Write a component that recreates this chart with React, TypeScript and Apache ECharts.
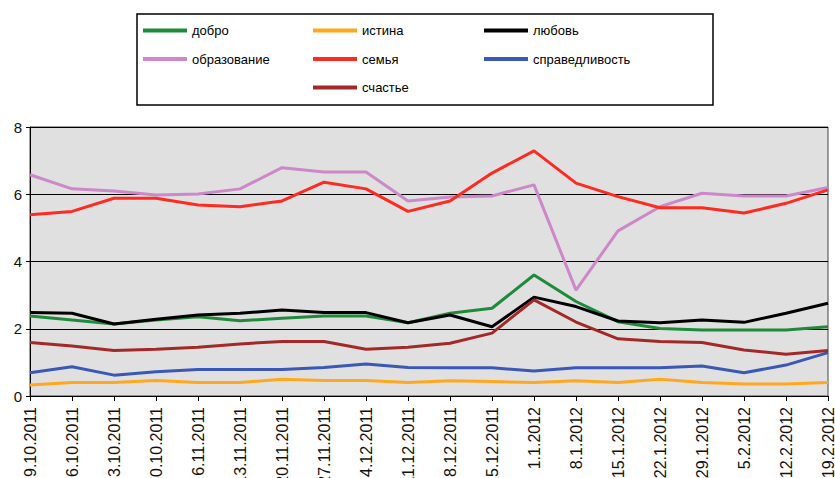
import React, { useEffect, useRef } from "react";
import * as echarts from "echarts";

const dates = [
  "9.10.2011", "16.10.2011", "23.10.2011", "30.10.2011", "6.11.2011", "13.11.2011",
  "20.11.2011", "27.11.2011", "4.12.2011", "11.12.2011", "18.12.2011", "25.12.2011",
  "1.1.2012", "8.1.2012", "15.1.2012", "22.1.2012", "29.1.2012", "5.2.2012",
  "12.2.2012", "19.2.2012",
];

const dobro = [2.38, 2.26, 2.14, 2.26, 2.36, 2.24, 2.31, 2.38, 2.38, 2.18, 2.46, 2.61, 3.6, 2.81, 2.21, 2.01, 1.96, 1.96, 1.96, 2.06];
const istina = [0.33, 0.4, 0.4, 0.46, 0.4, 0.4, 0.5, 0.46, 0.46, 0.4, 0.45, 0.43, 0.4, 0.45, 0.4, 0.5, 0.4, 0.36, 0.36, 0.4];
const lyubov = [2.48, 2.46, 2.14, 2.28, 2.41, 2.46, 2.56, 2.48, 2.48, 2.18, 2.41, 2.06, 2.94, 2.66, 2.23, 2.18, 2.26, 2.19, 2.46, 2.76];
const obrazovanie = [6.58, 6.16, 6.1, 5.98, 6.01, 6.16, 6.79, 6.66, 6.66, 5.8, 5.92, 5.95, 6.28, 3.15, 4.91, 5.63, 6.03, 5.95, 5.95, 6.2];
const semya = [5.39, 5.49, 5.88, 5.88, 5.68, 5.63, 5.8, 6.36, 6.16, 5.49, 5.8, 6.63, 7.29, 6.33, 5.93, 5.6, 5.6, 5.44, 5.73, 6.13];
const spravedlivost = [0.69, 0.87, 0.62, 0.72, 0.79, 0.79, 0.79, 0.85, 0.95, 0.85, 0.84, 0.84, 0.74, 0.84, 0.84, 0.84, 0.89, 0.69, 0.92, 1.29];
const schastye = [1.59, 1.49, 1.35, 1.39, 1.45, 1.55, 1.62, 1.62, 1.39, 1.45, 1.57, 1.87, 2.86, 2.2, 1.7, 1.62, 1.59, 1.37, 1.24, 1.35];

const seriesDefs = [
  { name: "добро", data: dobro, color: "#1F8A3A" },
  { name: "истина", data: istina, color: "#FFA81F" },
  { name: "любовь", data: lyubov, color: "#000000" },
  { name: "образование", data: obrazovanie, color: "#CC88C8" },
  { name: "семья", data: semya, color: "#FF2A20" },
  { name: "справедливость", data: spravedlivost, color: "#3A58B5" },
  { name: "счастье", data: schastye, color: "#A52828" },
];

const FONT = "'Liberation Sans', Arial, sans-serif";

export default function App() {
  const ref = useRef<HTMLDivElement>(null);
  useEffect(() => {
    if (!ref.current) return;
    const chart = echarts.init(ref.current, null, { renderer: "svg" });
    const legendCommon = {
      orient: "vertical" as const,
      top: 24,
      padding: 0,
      itemWidth: 44,
      itemHeight: 4,
      itemGap: 15.5,
      icon: "rect",
      textStyle: { fontSize: 13, color: "#000", fontFamily: FONT },
      selectedMode: false,
    };
    chart.setOption({
      animation: false,
      backgroundColor: "#fff",
      graphic: [
        {
          type: "rect",
          shape: { x: 137, y: 14, width: 576, height: 91 },
          style: { fill: "#fff", stroke: "#000", lineWidth: 1.5 },
          z: -1,
        },
      ],
      legend: [
        { ...legendCommon, left: 143, data: ["добро", "образование"] },
        { ...legendCommon, left: 313, data: ["истина", "семья", "счастье"] },
        { ...legendCommon, left: 484, data: ["любовь", "справедливость"] },
      ],
      grid: {
        left: 30,
        right: 7,
        top: 127,
        bottom: 82,
        outerBoundsMode: "none",
        containLabel: false,
        show: true,
        backgroundColor: "#E0E0E0",
        borderColor: "#444",
        borderWidth: 1,
      },
      xAxis: {
        type: "category",
        data: dates,
        boundaryGap: false,
        axisLine: { lineStyle: { color: "#000", width: 1 } },
        axisTick: { show: true, length: 5, interval: 0, lineStyle: { color: "#000" } },
        axisLabel: {
          rotate: 90,
          interval: 0,
          fontSize: 16,
          color: "#111",
          fontFamily: FONT,
          margin: 11,
        },
        splitLine: { show: false },
      },
      yAxis: {
        type: "value",
        min: 0,
        max: 8,
        interval: 2,
        axisLine: { show: true, lineStyle: { color: "#000", width: 1 } },
        axisTick: { show: true, length: 4, lineStyle: { color: "#000" } },
        axisLabel: { fontSize: 15, color: "#111", fontFamily: FONT, margin: 8 },
        splitLine: { show: true, lineStyle: { color: "#000", width: 1 } },
      },
      series: seriesDefs.map((s) => ({
        name: s.name,
        type: "line",
        data: s.data,
        symbol: "none",
        color: s.color,
        lineStyle: { color: s.color, width: 3 },
      })),
    });
    return () => chart.dispose();
  }, []);
  return (
    <div
      ref={ref}
      style={{ position: "absolute", left: 0, top: 0, width: 835, height: 478 }}
    />
  );
}
